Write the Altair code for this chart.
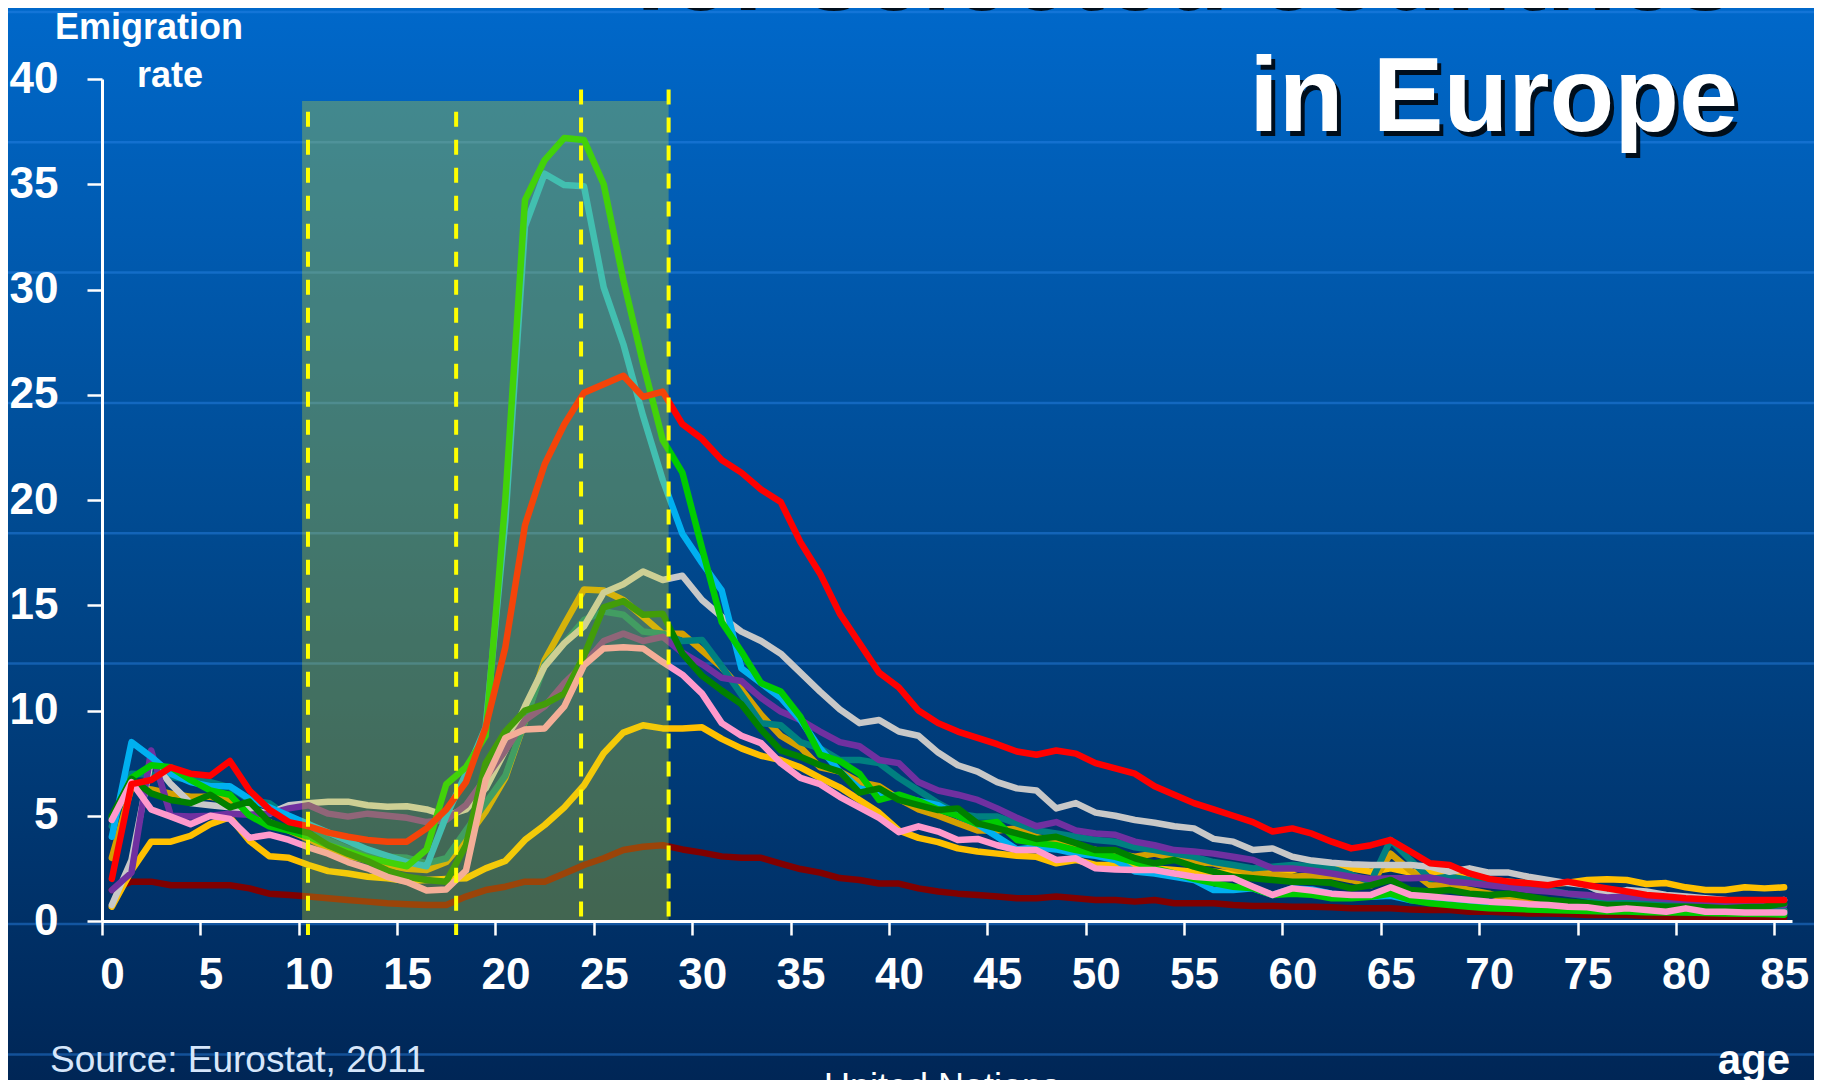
import altair as alt
import pandas as pd

# ---------------- data ----------------
ages = list(range(86))

red = [2.0, 6.5, 6.7, 7.3, 7.0, 6.9, 7.6, 6.2, 5.3, 4.7, 4.5, 4.2, 4.0, 3.85, 3.77, 3.77, 4.4, 5.3, 6.6, 9.2,
       13.0, 18.8, 21.7, 23.6, 25.1, 25.5, 25.9, 24.9, 25.15, 23.6, 22.9, 21.9, 21.3, 20.5, 19.9, 18.0, 16.5, 14.6, 13.2, 11.8,
       11.1, 10.0, 9.4, 9.0, 8.7, 8.4, 8.05, 7.9, 8.1, 7.95, 7.5, 7.25, 7.0, 6.4, 6.0, 5.6, 5.3, 5.0, 4.7, 4.25,
       4.4, 4.15, 3.77, 3.45, 3.6, 3.85, 3.3, 2.74, 2.66, 2.26, 2.0, 1.87, 1.79, 1.7, 1.87, 1.7, 1.55, 1.4, 1.24, 1.16,
       1.08, 1.03, 1.0, 1.0, 1.0, 1.0]

lime = [4.9, 6.8, 7.4, 7.3, 6.7, 6.2, 6.0, 5.0, 4.5, 4.3, 4.0, 3.6, 3.3, 3.0, 2.8, 2.6, 3.4, 6.5, 7.3, 8.8,
        20.0, 34.25, 36.15, 37.2, 37.1, 35.0, 30.45, 26.5, 22.85, 21.3, 17.7, 14.2, 12.8, 11.3, 10.9, 9.7, 7.9, 7.6, 7.0, 5.75,
        6.0, 5.7, 5.3, 5.0, 4.6, 4.7, 3.85, 3.7, 3.6, 3.37, 3.2, 3.05, 2.8, 2.5, 2.26, 2.0, 1.8, 1.63, 1.55, 1.24,
        1.3, 1.25, 1.08, 1.08, 1.15, 1.3, 1.0, 0.84, 0.76, 0.68, 0.6, 0.58, 0.55, 0.52, 0.5, 0.48, 0.45, 0.45, 0.42, 0.4,
        0.4, 0.38, 0.36, 0.35, 0.33, 0.3]

skyblue = [4.0, 8.5, 7.8, 7.0, 6.6, 6.4, 6.4, 5.8, 5.4, 5.0, 4.6, 4.2, 3.8, 3.4, 3.1, 2.8, 2.6, 5.0, 7.0, 9.2,
           19.0, 33.0, 35.5, 34.96, 34.9, 30.1, 27.4, 24.0, 20.95, 18.4, 17.0, 15.7, 12.0, 11.3, 10.6, 9.55, 8.2, 7.1, 6.3, 6.1,
           5.9, 5.7, 5.5, 5.0, 4.6, 4.0, 3.4, 3.5, 3.4, 3.2, 3.1, 2.9, 2.35, 2.26, 2.1, 1.95, 1.47, 1.47, 1.55, 1.24,
           1.55, 1.5, 1.3, 1.2, 1.15, 1.2, 1.0, 0.9, 0.8, 0.75, 0.7, 0.65, 0.62, 0.6, 0.55, 0.55, 0.5, 0.5, 0.47, 0.45,
           0.43, 0.42, 0.4, 0.4, 0.38, 0.37]

grey = [0.76, 2.9, 7.65, 6.5, 5.6, 5.5, 5.4, 5.3, 5.1, 5.5, 5.6, 5.67, 5.67, 5.5, 5.43, 5.45, 5.3, 5.0, 5.3, 6.3,
        8.1, 10.2, 12.1, 13.2, 14.0, 15.6, 16.0, 16.6, 16.2, 16.4, 15.25, 14.45, 13.75, 13.3, 12.7, 11.8, 10.9, 10.05, 9.4, 9.55,
        9.0, 8.8, 8.0, 7.4, 7.1, 6.6, 6.3, 6.2, 5.35, 5.6, 5.15, 5.0, 4.8, 4.67, 4.5, 4.4, 3.9, 3.77, 3.37, 3.45,
        3.05, 2.87, 2.77, 2.7, 2.66, 2.66, 2.66, 2.58, 2.34, 2.5, 2.3, 2.3, 2.1, 1.95, 1.8, 1.7, 1.24, 1.47, 1.4, 1.24,
        1.16, 1.08, 1.0, 0.92, 0.84, 1.0]

gold = [3.0, 6.35, 6.25, 6.05, 5.9, 5.9, 5.75, 5.3, 4.7, 4.3, 3.9, 3.45, 3.1, 2.9, 2.66, 2.48, 2.42, 2.8, 3.9, 5.2,
        6.8, 9.5, 12.4, 14.1, 15.75, 15.7, 15.25, 14.45, 13.65, 13.65, 12.85, 12.05, 11.0, 9.8, 8.8, 8.25, 7.3, 7.1, 6.6, 6.4,
        5.8, 5.3, 5.0, 4.64, 4.3, 4.3, 4.4, 4.0, 3.77, 3.5, 3.37, 3.2, 3.05, 3.2, 2.98, 2.8, 2.74, 2.5, 2.26, 2.2,
        2.1, 2.15, 2.14, 1.95, 1.7, 3.2, 2.4, 1.7, 1.66, 1.47, 1.3, 1.0, 1.03, 0.92, 0.85, 0.8, 0.75, 0.72, 0.7, 0.66,
        0.62, 0.6, 0.57, 0.55, 0.52, 0.5]

darkgreen = [5.0, 6.75, 6.06, 5.75, 5.6, 6.0, 5.4, 5.67, 4.7, 4.4, 4.18, 3.6, 3.2, 2.85, 2.4, 2.1, 1.95, 1.87, 3.6, 7.5,
             9.0, 10.0, 10.3, 10.8, 12.6, 14.9, 15.2, 14.55, 14.6, 12.7, 11.65, 10.95, 10.3, 9.1, 8.1, 7.8, 7.4, 7.1, 6.1, 6.3,
             5.75, 5.5, 5.27, 5.35, 4.64, 4.4, 4.16, 3.9, 4.0, 3.7, 3.37, 3.37, 2.98, 2.74, 2.9, 2.58, 2.34, 2.1, 2.03, 1.95,
             1.87, 1.87, 1.8, 1.55, 1.7, 1.95, 1.47, 1.4, 1.47, 1.3, 1.24, 1.3, 1.16, 1.0, 0.92, 0.84, 0.76, 0.76, 0.72, 0.68,
             0.68, 0.65, 0.6, 0.65, 0.68, 0.84]

teal = [4.5, 7.0, 6.95, 6.85, 6.7, 6.6, 6.35, 5.75, 5.6, 4.95, 4.62, 3.85, 3.45, 3.3, 3.05, 3.0, 2.74, 2.98, 4.3, 5.6,
        6.9, 9.5, 12.2, 13.2, 14.3, 14.7, 14.55, 13.75, 13.65, 13.3, 13.35, 12.1, 10.75, 9.4, 9.3, 8.5, 8.2, 7.65, 7.65, 7.5,
        6.8, 6.2, 5.6, 5.1, 4.96, 4.96, 4.64, 4.3, 4.16, 4.0, 3.85, 3.77, 3.5, 3.37, 3.2, 3.05, 2.8, 2.66, 2.5, 2.58,
        2.66, 2.6, 2.5, 2.2, 1.87, 3.85, 2.9, 2.0, 2.1, 1.95, 1.8, 1.7, 1.55, 1.47, 1.3, 1.16, 1.0, 1.0, 0.92, 0.85,
        0.8, 0.72, 0.65, 0.6, 0.55, 0.5]

purple = [1.47, 2.3, 8.1, 5.0, 4.96, 5.0, 5.1, 5.05, 5.1, 5.35, 5.5, 5.1, 4.96, 5.1, 5.0, 4.9, 4.7, 4.8, 5.5, 6.8,
          8.1, 9.55, 10.2, 11.3, 12.2, 13.3, 13.65, 13.3, 13.5, 12.75, 12.2, 11.55, 11.4, 10.6, 9.95, 9.55, 9.0, 8.5, 8.3, 7.65,
          7.5, 6.6, 6.2, 6.0, 5.75, 5.35, 4.9, 4.5, 4.7, 4.3, 4.16, 4.1, 3.77, 3.6, 3.37, 3.3, 3.2, 3.05, 2.9, 2.5,
          2.5, 2.4, 2.26, 2.1, 2.0, 2.03, 2.03, 2.07, 1.87, 1.8, 1.7, 1.6, 1.47, 1.4, 1.3, 1.24, 1.12, 1.16, 1.1, 1.05,
          1.0, 0.92, 0.84, 0.76, 0.76, 0.76]

pink = [4.8, 6.6, 5.3, 4.96, 4.6, 5.0, 4.85, 3.95, 4.1, 3.85, 3.5, 3.2, 2.8, 2.5, 2.1, 1.85, 1.45, 1.5, 2.4, 6.7,
        8.7, 9.1, 9.15, 10.2, 12.15, 12.95, 13.0, 12.95, 12.3, 11.7, 10.8, 9.4, 8.8, 8.45, 7.5, 6.8, 6.5, 5.9, 5.4, 4.9,
        4.22, 4.5, 4.25, 3.85, 3.9, 3.6, 3.37, 3.37, 2.9, 2.98, 2.5, 2.45, 2.42, 2.42, 2.26, 2.1, 2.03, 2.03, 1.63, 1.24,
        1.55, 1.45, 1.3, 1.24, 1.24, 1.6, 1.24, 1.16, 1.08, 1.0, 0.92, 0.87, 0.8, 0.76, 0.68, 0.65, 0.52, 0.6, 0.52, 0.44,
        0.6, 0.44, 0.44, 0.4, 0.4, 0.4]

yellow = [0.68, 2.4, 3.77, 3.77, 4.05, 4.6, 4.93, 3.8, 3.08, 3.0, 2.66, 2.37, 2.26, 2.1, 2.03, 1.9, 1.95, 2.0, 2.03, 2.5,
          2.85, 3.85, 4.56, 5.4, 6.45, 7.97, 8.95, 9.3, 9.15, 9.15, 9.2, 8.65, 8.2, 7.85, 7.65, 7.3, 6.8, 6.35, 5.75, 5.14,
          4.3, 3.95, 3.75, 3.45, 3.3, 3.2, 3.1, 3.05, 2.74, 2.9, 2.66, 2.66, 2.58, 2.5, 2.42, 2.34, 2.34, 2.26, 2.26, 2.26,
          2.4, 2.7, 2.66, 2.5, 2.34, 2.5, 2.3, 2.34, 2.2, 2.03, 1.95, 1.87, 1.8, 1.76, 1.82, 1.95, 1.98, 1.95, 1.76, 1.8,
          1.6, 1.47, 1.47, 1.6, 1.55, 1.6]

maroon = [1.47, 1.87, 1.87, 1.7, 1.7, 1.7, 1.7, 1.55, 1.3, 1.24, 1.16, 1.08, 1.0, 0.92, 0.84, 0.8, 0.76, 0.76, 1.16, 1.47,
          1.63, 1.87, 1.87, 2.26, 2.66, 2.98, 3.37, 3.53, 3.6, 3.4, 3.25, 3.07, 3.0, 3.0, 2.73, 2.47, 2.3, 2.04, 1.95, 1.78,
          1.78, 1.55, 1.4, 1.3, 1.24, 1.16, 1.08, 1.08, 1.16, 1.08, 1.0, 1.0, 0.92, 1.0, 0.84, 0.84, 0.84, 0.76, 0.71, 0.71,
          0.68, 0.68, 0.65, 0.6, 0.6, 0.6, 0.55, 0.52, 0.52, 0.44, 0.44, 0.4, 0.36, 0.36, 0.33, 0.29, 0.29, 0.29, 0.24, 0.2,
          0.2, 0.2, 0.18, 0.18, 0.17, 0.17]

# drawing order (bottom -> top) and colours
series_names = ["maroon", "yellow", "gold", "teal", "grey", "purple", "skyblue", "lime", "darkgreen", "pink", "red"]
series_values = [maroon, yellow, gold, teal, grey, purple, skyblue, lime, darkgreen, pink, red]
series_colors = ["#800000", "#FFC000", "#D4A000", "#008080", "#C8C8C8", "#7030A0", "#00B0F0", "#00CC00",
                 "#008000", "#FF99CC", "#FF0000"]

tick_values_x = list(range(0, 86, 5))
tick_values_y = list(range(0, 41, 5))

# highlighted age band and dashed markers
band_start, band_end, band_top = [10.17], [28.8], [38.95]
marker_ages = [10.47, 18.0, 24.35, 28.8]
marker_tops = [38.45, 38.45, 39.5, 39.5]
marker_bottoms = [-0.66, -0.66, 0.0, 0.0]

# ---------------- layout constants ----------------
W, H = 1690, 842
PAD = {"left": 94, "top": 71, "right": 22, "bottom": 159}
FONT = "Liberation Sans"

xs = alt.Scale(domain=[0, 85.9], nice=False, zero=False)
ys = alt.Scale(domain=[0, 40], nice=False, zero=False)

ax_x = alt.Axis(values=tick_values_x, labelFont=FONT, labelFontSize=44, labelFontWeight="bold",
                labelColor="white", labelPadding=18, labelOffset=10, labelFlush=False, labelOverlap=False,
                tickColor="white", tickSize=14, tickWidth=2.5, domainColor="white", domainWidth=3,
                grid=False, title=None, zindex=2)
ax_y = alt.Axis(values=tick_values_y, labelFont=FONT, labelFontSize=44, labelFontWeight="bold",
                labelColor="white", labelPadding=29, labelFlush=False, labelOverlap=False,
                tickColor="white", tickSize=15, tickWidth=2.5, domainColor="white", domainWidth=3,
                grid=False, title=None, zindex=2)

one = pd.DataFrame({"k": [0]})

# background gradient
bg_grad = alt.LinearGradient(gradient="linear",
                             stops=[alt.GradientStop(color="#0068CA", offset=0),
                                    alt.GradientStop(color="#00498F", offset=0.5),
                                    alt.GradientStop(color="#002656", offset=1)],
                             x1=0, x2=0, y1=0, y2=1)
background = alt.Chart(one).mark_rect(color=bg_grad).encode(
    x=alt.value(-PAD["left"]), x2=alt.value(W + PAD["right"]),
    y=alt.value(-PAD["top"]), y2=alt.value(H + PAD["bottom"]))

# faint horizontal background stripes (decoration)
stripe_df = pd.DataFrame({"py": [-67 + 130.3 * i for i in range(9) if i != 6]})
stripes = alt.Chart(stripe_df).mark_rule(color="#2A86E8", opacity=0.45, strokeWidth=2.5).encode(
    y=alt.Y("py:Q", scale=None), x=alt.value(-PAD["left"]), x2=alt.value(W + PAD["right"]))

# data lines
long_rows = []
for name, vals in zip(series_names, series_values):
    for a, v in zip(ages, vals):
        long_rows.append({"series": name, "age": a, "rate": v})
df = pd.DataFrame(long_rows)

line_layers = []
for name, col in zip(series_names, series_colors):
    line_layers.append(
        alt.Chart(df).transform_filter(alt.datum.series == name)
        .transform_calculate(xpos="datum.age + 0.5")
        .mark_line(color=col, strokeWidth=6.5, strokeJoin="round", strokeCap="round")
        .encode(x=alt.X("xpos:Q", scale=xs, axis=ax_x), y=alt.Y("rate:Q", scale=ys, axis=ax_y))
    )

# translucent overlay band
band_df = pd.DataFrame({"x0": band_start, "x1": band_end, "top": band_top})
band = alt.Chart(band_df).mark_rect(color="#DCE11E", opacity=0.3).encode(
    x=alt.X("x0:Q", scale=xs, axis=ax_x), x2="x1:Q",
    y=alt.Y("top:Q", scale=ys, axis=ax_y), y2=alt.datum(0))

# dashed yellow markers
mk_df = pd.DataFrame({"a": marker_ages, "t": marker_tops, "b": marker_bottoms})
markers = alt.Chart(mk_df).mark_rule(color="#FFFF00", strokeWidth=4, strokeDash=[15, 13]).encode(
    x=alt.X("a:Q", scale=xs, axis=ax_x), y=alt.Y("t:Q", scale=ys, axis=ax_y), y2="b:Q")

def label(text, x, y, size, weight="bold", align="center", baseline="middle", color="white", dx=0, dy=0,
          opacity=1.0):
    return alt.Chart(one).mark_text(text=text, font=FONT, fontSize=size, fontWeight=weight, align=align,
                                    baseline=baseline, color=color, dx=dx, dy=dy, opacity=opacity).encode(
        x=alt.value(x), y=alt.value(y))

texts = [
    label("Emigration", 47, -51, 36),
    label("rate", 68, -3, 36),
    # title with drop shadow
    label("for selected countries", 1629, -74, 106, align="right", baseline="alphabetic", color="black",
          dx=4, dy=5, opacity=0.85),
    label("for selected countries", 1629, -74, 106, align="right", baseline="alphabetic"),
    label("in Europe", 1636, 52, 106, align="right", baseline="alphabetic", color="black", dx=4, dy=5,
          opacity=0.85),
    label("in Europe", 1636, 52, 106, align="right", baseline="alphabetic"),
    label("Source: Eurostat, 2011", -52, 982, 37, weight="normal", align="left", color="#D6E6FA"),
    label("age", 1688, 982, 42, align="right"),
    label("United Nations", 840, 992, 36, weight="normal", baseline="top"),
]

chart = alt.layer(background, stripes, *line_layers, band, markers, *texts).properties(
    width=W, height=H, padding=PAD, autosize=alt.AutoSizeParams(type="none"),
    background="#002656"
).configure_view(stroke=None)

chart.save("out.html", embed_options={"renderer": "svg", "actions": False})
